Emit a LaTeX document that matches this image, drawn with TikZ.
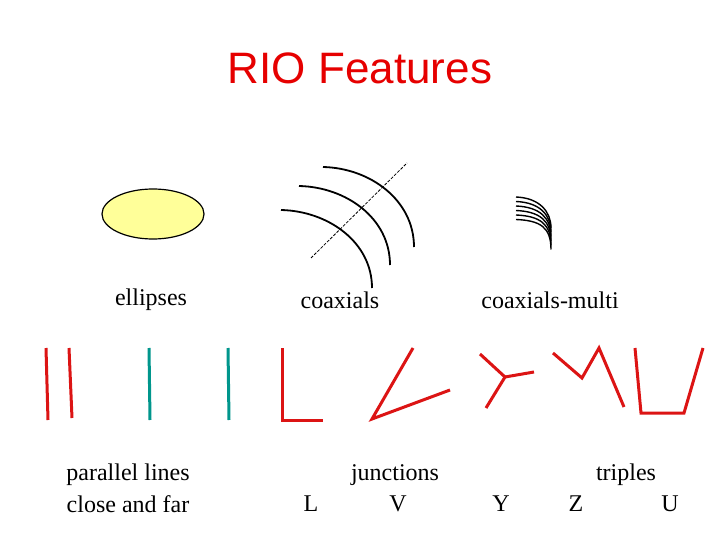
\documentclass[tikz,border=0pt]{standalone}
\usepackage{fontspec}
\usetikzlibrary{shapes.geometric}
\setmainfont{Liberation Serif}
\newfontfamily\arialf{Liberation Sans}
\begin{document}
\begin{tikzpicture}[x=1pt,y=-1pt,
 lbl/.style={font=\fontsize{24}{28}\selectfont,inner sep=0pt},
 rl/.style={draw={rgb,255:red,220;green,20;blue,20},line width=3pt},
 tl/.style={draw={rgb,255:red,0;green,150;blue,140},line width=3pt},
 arcl/.style={draw=black,line width=1.8pt},
 marc/.style={draw=black,line width=1.4pt}]
\useasboundingbox[fill=white] (0,0) rectangle (720,540);
\node[font=\arialf\fontsize{44}{50}\selectfont,text={rgb,255:red,230;green,0;blue,0},inner sep=0pt] (title) at (360,68) {RIO Features};
\node[draw=black,line width=1.2pt,fill={rgb,255:red,255;green,255;blue,153},ellipse,minimum width=102pt,minimum height=50pt] (ell) at (153,214) {};
% coaxials
\draw[arcl] (323,167) .. controls (370,168) and (414,200) .. (414,247);
\draw[arcl] (299,186) .. controls (346,187) and (390,218) .. (390,265);
\draw[arcl] (281,210) .. controls (328,211) and (372,242) .. (372,288);
\coordinate (da) at (311,258); \coordinate (db) at (407,163);
\draw[black,line width=0.8pt,dash pattern=on 3pt off 1.5pt] (da) -- (db);
% multi
\foreach \k in {0,...,5}{
 \draw[marc] (516,{197+4.5*\k}) .. controls (540,{198+4.5*\k}) and (551,{212+3*\k}) .. (551,{228+4.3*\k});
}
\node[lbl] (l1) at (151,300) {ellipses};
\node[lbl] (l2) at (340,300) {coaxials};
\node[lbl] (l3) at (550,300) {coaxials-multi};
% parallel
\draw[rl] (46,348) -- (48,420);
\draw[rl] (69,348) -- (72,418);
\draw[tl] (149,348) -- (150,420);
\draw[tl] (228,348) -- (229,420);
% junctions
\draw[rl] (282,348) -- (282,420) -- (323,420);
\draw[rl] (413,348) -- (372,419) -- (450,390);
\coordinate (yc) at (505,377);
\draw[rl] (480,354) -- (yc); \draw[rl] (486,408) -- (yc); \draw[rl] (534,372) -- (yc);
\draw[rl,line join=miter] (553,353) -- (582,378) -- (599,348) -- (624,407);
\draw[rl,line join=miter] (635,348) -- (641,413) -- (684,413) -- (703,348);
\node[lbl] (p1) at (128,475) {parallel lines};
\node[lbl] (p2) at (128,504) {close and far};
\node[lbl] (j) at (395,475) {junctions};
\node[lbl] (jl) at (311,504) {L};
\node[lbl] (jv) at (398,504) {V};
\node[lbl] (t) at (626,475) {triples};
\node[lbl] (ty) at (501,504) {Y};
\node[lbl] (tz) at (576,504) {Z};
\node[lbl] (tu) at (670,504) {U};
\end{tikzpicture}
\end{document}
